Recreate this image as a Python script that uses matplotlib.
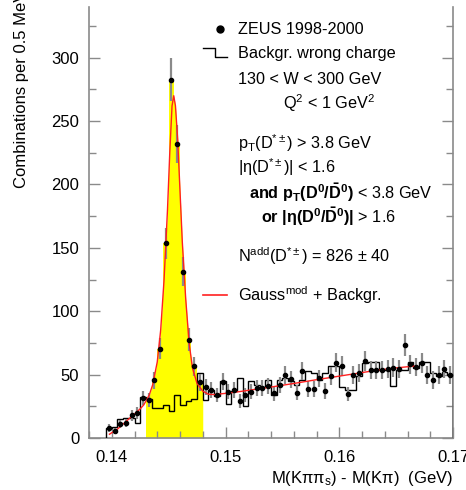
import numpy as np
import matplotlib
matplotlib.use('Agg')
import matplotlib.pyplot as plt
from matplotlib.ticker import MultipleLocator

plt.rcParams['font.family'] = ['Liberation Sans', 'DejaVu Sans']
plt.rcParams['mathtext.fontset'] = 'custom'
plt.rcParams['mathtext.rm'] = 'Liberation Sans'
plt.rcParams['mathtext.it'] = 'Liberation Sans:italic'
plt.rcParams['mathtext.bf'] = 'Liberation Sans:bold'
plt.rcParams['mathtext.default'] = 'rm'

# 0.5 MeV bins from 0.1395 to 0.170 GeV
bin_edges = np.linspace(0.1395, 0.170, 62)
bin_centers = 0.5 * (bin_edges[:-1] + bin_edges[1:])

# ZEUS 1998-2000 data (combinations per bin)
data_y = [7.9, 5.5, 10.8, 11.9, 17.9, 19.8, 31.6, 30, 45.6, 70.6,
          153.5, 282.6, 232, 131, 77.7, 56.6, 44, 40.5, 37.9, 33.9,
          44.5, 36.6, 37.9, 29.2, 33.9, 36.6, 39.7, 39.7, 41, 35.3,
          41.8, 49.7, 46.3, 35.8, 52.9, 38.7, 38.7, 47.1, 37.1, 49,
          59.5, 56.8, 34.7, 49.7, 51, 60.8, 53.7, 53.7, 53.7, 54.5,
          55.3, 54.5, 73.4, 58.2, 56, 59, 49.7, 45.8, 49.7, 54.5, 49.7]

# wrong charge background histogram
wrong_y = [8, 9, 15, 16, 16, 12, 32, 31, 24, 24,
           26, 21, 34, 26, 29, 31, 51, 30, 38, 33,
           45, 27, 37, 47, 25, 45, 42, 40, 46, 34,
           46, 47, 45, 42, 46, 53, 51, 46, 51, 57,
           57, 40, 38, 38, 49, 59, 60, 60, 54, 54,
           41, 54, 54, 60, 55, 60, 60, 51, 49, 52, 50]

# fit curve (Gauss^mod + Backgr.)
fit_x = [0.1398, 0.1405, 0.1410, 0.1415, 0.1420, 0.1425, 0.1428, 0.1430,
         0.1433, 0.1436, 0.1440, 0.1443, 0.1446, 0.1449, 0.1451, 0.1453,
         0.14545, 0.1456, 0.1458, 0.1460, 0.1462, 0.1465, 0.1468, 0.1471,
         0.1475, 0.1480, 0.1485, 0.1490, 0.1500, 0.1510, 0.1520, 0.1530,
         0.1540, 0.1550, 0.1560, 0.1570, 0.1580, 0.1590, 0.1600, 0.1610,
         0.1620, 0.1630, 0.1640, 0.1650, 0.1660, 0.1667]
fit_y = [3, 7, 11, 15, 19, 23, 26, 29,
         34, 42, 60, 85, 125, 180, 225, 262,
         270, 262, 235, 195, 155, 110, 75, 55,
         43, 37, 34.5, 34.3, 35.2, 36.3, 37.6, 38.9,
         40.2, 41.6, 43.0, 44.5, 46.0, 47.4, 48.8, 50.2,
         51.6, 53.0, 54.2, 55.3, 56.2, 56.8]

# signal window (yellow)
sig_lo, sig_hi = 0.143, 0.148

fig = plt.figure(figsize=(4.66, 4.90), dpi=100)
ax = fig.add_axes([89 / 466, 1 - 438 / 490, 364 / 466, 431 / 490])

data_y = np.array(data_y)
fit_x = np.array(fit_x)
fit_y = np.array(fit_y)

# yellow: data bars in the window + area under the fit
in_win = (bin_centers > sig_lo) & (bin_centers < sig_hi)
idx = np.where(in_win)[0]
ax.stairs(data_y[idx], bin_edges[idx[0]:idx[-1] + 2], fill=True,
          color='#ffff00', linewidth=0, zorder=1)
m = (fit_x >= sig_lo) & (fit_x <= sig_hi)
ax.fill_between(fit_x[m], 0, fit_y[m], color='#ffff00', linewidth=0, zorder=1)

# wrong charge histogram
ax.stairs(wrong_y, bin_edges, color='black', linewidth=1.0, zorder=3)

# data with error bars
ax.errorbar(bin_centers, data_y, yerr=np.sqrt(data_y), fmt='none',
            ecolor='#8a8a8a', elinewidth=1.6, zorder=4)
ax.plot(fit_x, fit_y, color='#ff2020', linewidth=1.0, zorder=5)
ax.plot(bin_centers, data_y, 'o', color='black', markersize=3.0, zorder=6)

ax.set_xlim(0.138, 0.170)
ax.set_ylim(0, 340)
ax.xaxis.set_major_locator(MultipleLocator(0.01))
ax.xaxis.set_minor_locator(MultipleLocator(0.002))
ax.yaxis.set_major_locator(MultipleLocator(50))
ax.yaxis.set_minor_locator(MultipleLocator(25))
ax.set_xticks([0.14, 0.15, 0.16, 0.17])
ax.set_xticklabels(['0.14', '0.15', '0.16', '0.17'])

ax.spines['top'].set_visible(False)
for s in ['left', 'right', 'bottom']:
    ax.spines[s].set_color('#8a8a8a')
    ax.spines[s].set_linewidth(1.2)
ax.tick_params(which='both', direction='in', right=True, color='#8a8a8a',
               labelsize=12, width=1.0)
ax.tick_params(which='major', length=8)
ax.tick_params(which='minor', length=5)
ax.tick_params(axis='x', pad=9)
ax.tick_params(axis='y', pad=7)

fig.text(22 / 466, 1 - 188 / 490, 'Combinations per 0.5 MeV', rotation=90,
         ha='center', va='bottom', fontsize=12)
fig.text(453 / 466, 1 - 478 / 490, r'M(K$\pi\pi_s$) - M(K$\pi$)  (GeV)',
         ha='right', va='center', fontsize=12)


# legend / labels in pixel layout
def px(x, y):
    return (x - 89) / 364, (438 - y) / 431


fs = 11.7
ax.plot(*px(220, 29), 'o', color='black', markersize=5, transform=ax.transAxes,
        clip_on=False)
ax.text(*px(238, 29), 'ZEUS 1998-2000', transform=ax.transAxes, va='center', fontsize=fs)
kx = [px(203, 48)[0], px(215, 48)[0], px(215, 57)[0], px(227, 57)[0]]
ky = [px(203, 48)[1], px(215, 48)[1], px(215, 57)[1], px(227, 57)[1]]
ax.plot(kx, ky, color='black', linewidth=1.0, transform=ax.transAxes)
ax.text(*px(238, 53), 'Backgr. wrong charge', transform=ax.transAxes, va='center', fontsize=fs)
ax.text(*px(238, 79), '130 < W < 300 GeV', transform=ax.transAxes, va='center', fontsize=fs)
ax.text(*px(283, 103), r'Q$^2$ < 1 GeV$^2$', transform=ax.transAxes, va='center', fontsize=fs)
ax.text(*px(238, 143), r'p$_T$(D$^{*\pm}$) > 3.8 GeV', transform=ax.transAxes, va='center', fontsize=fs)
ax.text(*px(238, 167), r'|$\eta$(D$^{*\pm}$)| < 1.6', transform=ax.transAxes, va='center', fontsize=fs)
ax.text(*px(249, 193), r'$\mathbf{and\ p_T(D^0/\bar{D}^0)}$ < 3.8 GeV', transform=ax.transAxes,
        va='center', fontsize=fs)
ax.text(*px(261, 217), r'$\mathbf{or\ |\eta(D^0/\bar{D}^0)|}$ > 1.6', transform=ax.transAxes,
        va='center', fontsize=fs)
ax.text(*px(238, 256), r'N$^{add}$(D$^{*\pm}$) = 826 $\pm$ 40', transform=ax.transAxes,
        va='center', fontsize=fs)
ax.plot([px(203, 295)[0], px(227, 295)[0]], [px(203, 295)[1]] * 2, color='#ff2020',
        linewidth=1.2, transform=ax.transAxes)
ax.text(*px(238, 295), r'Gauss$^{mod}$ + Backgr.', transform=ax.transAxes, va='center', fontsize=fs)

fig.savefig('out.png', dpi=100)
